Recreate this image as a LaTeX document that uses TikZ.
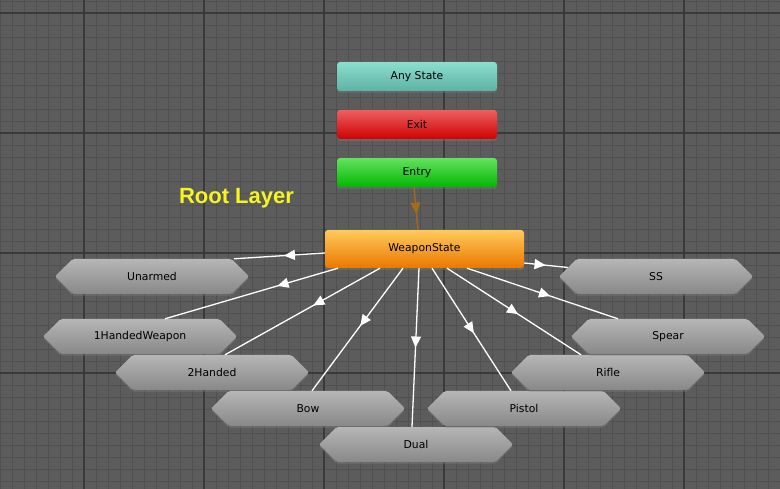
\documentclass[tikz,border=0pt]{standalone}
\usepackage{fontspec}
\setmainfont{DejaVu Sans}
\newfontfamily\titlefont{Liberation Sans}
\usetikzlibrary{shapes.symbols, arrows.meta, decorations.markings, shadows}
\definecolor{bg}{RGB}{92,92,92}
\definecolor{gridminor}{RGB}{80,80,80}
\definecolor{gridmajor}{RGB}{58,58,58}
\definecolor{anytop}{RGB}{140,222,206}
\definecolor{anybot}{RGB}{94,178,164}
\definecolor{exittop}{RGB}{236,96,96}
\definecolor{exitbot}{RGB}{208,0,0}
\definecolor{entrytop}{RGB}{100,226,96}
\definecolor{entrybot}{RGB}{0,184,0}
\definecolor{wstop}{RGB}{255,202,92}
\definecolor{wsbot}{RGB}{234,120,0}
\definecolor{hextop}{RGB}{182,182,182}
\definecolor{hexbot}{RGB}{136,136,136}
\definecolor{entryline}{RGB}{172,108,18}
\definecolor{rootyellow}{RGB}{246,246,30}
\tikzset{
  box/.style = {rounded corners=3pt, minimum width=160pt, minimum height=29pt,
    font=\fontsize{10.8}{13}\selectfont, text=black,
    drop shadow={shadow xshift=0pt, shadow yshift=-2pt, opacity=0.35}},
  hexa/.style = {signal, signal to=west and east, rounded corners=2pt,
    minimum width=194pt, minimum height=35pt, inner sep=0pt,
    top color=hextop, bottom color=hexbot,
    font=\fontsize{10.8}{13}\selectfont, text=black,
    drop shadow={shadow xshift=0pt, shadow yshift=-2pt, opacity=0.35}},
  trans/.style = {white, line width=1.3pt, postaction={decorate},
    decoration={markings, mark=at position #1 with {\arrow{Triangle[length=11pt,width=10pt]}}}},
  trans/.default = 0.5
}

\begin{document}
\begin{tikzpicture}[x=1pt,y=-1pt]
\useasboundingbox (0,0) rectangle (780,489);
\fill[bg] (0,0) rectangle (780,489);
% grid
\foreach \x in {0,12,...,780} \draw[gridminor, line width=0.8pt] (\x,0) -- (\x,489);
\foreach \y in {1,13,...,489} \draw[gridminor, line width=0.8pt] (0,\y) -- (780,\y);
\foreach \x in {84,204,...,684} \draw[gridmajor, line width=1.1pt] (\x,0) -- (\x,489);
\foreach \y in {13,133,...,373} \draw[gridmajor, line width=1.1pt] (0,\y) -- (780,\y);

\node[anchor=base, text=rootyellow, font=\titlefont\bfseries\fontsize{22}{26}\selectfont] (title) at (236.5,204) {Root Layer};

\node[box, top color=anytop, bottom color=anybot] (any) at (417,76.5) {Any State};
\node[box, top color=exittop, bottom color=exitbot] (exit) at (417,124.5) {Exit};
\node[box, top color=entrytop, bottom color=entrybot] (entry) at (417,172.5) {Entry};
\node[box, top color=wstop, bottom color=wsbot, minimum width=199pt, minimum height=38pt] (ws) at (424.5,249) {WeaponState};

\node[hexa] (unarmed) at (152,276.5) {Unarmed};
\node[hexa] (oneh) at (140,336.5) {1HandedWeapon};
\node[hexa] (twoh) at (212,372.5) {2Handed};
\node[hexa] (bow) at (308,408.5) {Bow};
\node[hexa] (dual) at (416,444.5) {Dual};
\node[hexa] (pistol) at (524,408.5) {Pistol};
\node[hexa] (rifle) at (608,372.5) {Rifle};
\node[hexa] (spear) at (668,336.5) {Spear};
\node[hexa] (ss) at (656,276.5) {SS};

\draw[trans=0.62, entryline, opacity=0.9] ([xshift=-3pt]entry.south) -- ([xshift=-6.5pt]ws.north);

\draw[trans=0.45] ([yshift=-4pt]ws.west) -- ([xshift=82pt]unarmed.north);
\draw[trans=0.35] ([xshift=-86.5pt]ws.south) -- ([xshift=25pt]oneh.north);
\draw[trans=0.43] ([xshift=-44.5pt]ws.south) -- ([xshift=13pt]twoh.north);
\draw[trans=0.47] ([xshift=-21.5pt]ws.south) -- ([xshift=4pt]bow.north);
\draw[trans=0.5] ([xshift=-5.5pt]ws.south) -- ([xshift=-4pt]dual.north);
\draw[trans=0.53] ([xshift=7.5pt]ws.south) -- ([xshift=-13pt]pistol.north);
\draw[trans=0.53] ([xshift=22.5pt]ws.south) -- ([xshift=-27pt]rifle.north);
\draw[trans=0.55] ([xshift=42.5pt]ws.south) -- ([xshift=-50pt]spear.north);
\draw[trans=0.49] ([yshift=-14pt]ws.east) -- (ss);
\end{tikzpicture}
\end{document}
